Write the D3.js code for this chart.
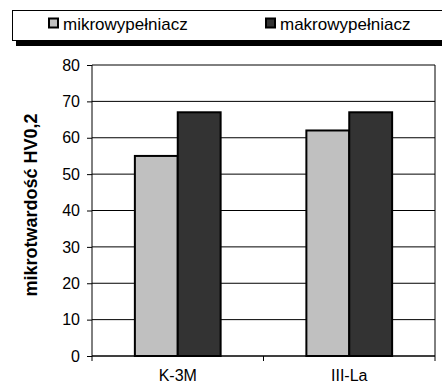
<!DOCTYPE html>
<html><head><meta charset="utf-8">
<script src="https://cdn.jsdelivr.net/npm/d3@7"></script>
<style>
html,body{margin:0;padding:0;background:#fff;}
svg{display:block;font-family:Arial,"Liberation Sans",sans-serif;}
</style></head>
<body>
<svg id="c" width="442" height="385"></svg>
<script>
const categories = ["K-3M", "III-La"];
const seriesNames = ["mikrowypełniacz", "makrowypełniacz"];
const mikro = [55, 62];
const makro = [67, 67];
const yTicks = [0, 10, 20, 30, 40, 50, 60, 70, 80];
const yTitle = "mikrotwardość HV0,2";
const colors = ["#c0c0c0", "#333333"];

const svg = d3.select("#c");
const L = 92, R = 435, T = 65, B = 356;
const x = d3.scaleBand().domain(categories).range([L, R]).padding(0);
const y = d3.scaleLinear().domain([0, 80]).range([B, T]);

// gridlines
svg.append("g").selectAll("line").data(yTicks).join("line")
  .attr("x1", L).attr("x2", R).attr("y1", d => y(d)).attr("y2", d => y(d))
  .attr("stroke", "#000").attr("stroke-width", 1);
// right border
svg.append("line").attr("x1", R).attr("x2", R).attr("y1", T).attr("y2", B)
  .attr("stroke", "#000").attr("stroke-width", 1);

// bars
const series = [mikro, makro];
const bw = x.bandwidth() / 4;
series.forEach((vals, si) => {
  svg.append("g").selectAll("rect").data(categories).join("rect")
    .attr("x", (d) => x(d) + x.bandwidth() / 2 - bw + si * bw)
    .attr("y", (d, i) => y(vals[i]))
    .attr("width", bw)
    .attr("height", (d, i) => y(0) - y(vals[i]))
    .attr("fill", colors[si])
    .attr("stroke", "#000").attr("stroke-width", 2);
});

// y axis
const yAxis = d3.axisLeft(y).tickValues(yTicks).tickSize(5).tickPadding(7).tickFormat(d3.format("d"));
const gy = svg.append("g").attr("transform", `translate(${L},0)`).call(yAxis);
gy.select(".domain").attr("stroke", "#000").attr("d", `M0,${T}V${B}`);
gy.selectAll(".tick line").attr("stroke", "#000");
gy.selectAll(".tick text").attr("font-size", 16).attr("fill", "#000")
  .attr("font-family", "Arial, 'Liberation Sans', sans-serif");

// x axis
const gx = svg.append("g").attr("transform", `translate(0,${B})`);
gx.append("line").attr("x1", L).attr("x2", R).attr("y1", 0).attr("y2", 0).attr("stroke", "#000");
const xt = [L, L + x.bandwidth(), R];
gx.selectAll("line.t").data(xt).join("line").attr("class", "t")
  .attr("x1", d => d).attr("x2", d => d).attr("y1", 0).attr("y2", 5).attr("stroke", "#000");
gx.selectAll("text").data(categories).join("text")
  .attr("x", d => x(d) + x.bandwidth() / 2).attr("y", 25)
  .attr("text-anchor", "middle").attr("font-size", 16).text(d => d);

// y title
svg.append("text").attr("transform", `translate(37,205) rotate(-90)`)
  .attr("text-anchor", "middle").attr("font-size", 18).attr("font-weight", "bold")
  .text(yTitle);

// legend
const lg = svg.append("g");
lg.append("rect").attr("x", 16).attr("y", 16).attr("width", 440).attr("height", 30).attr("fill", "#000");
lg.append("rect").attr("x", 12.5).attr("y", 10.5).attr("width", 440).attr("height", 30)
  .attr("fill", "#fff").attr("stroke", "#000").attr("stroke-width", 1);
const lx = [49, 266];
seriesNames.forEach((n, i) => {
  lg.append("rect").attr("x", lx[i]).attr("y", 18.5).attr("width", 9).attr("height", 9)
    .attr("fill", colors[i]).attr("stroke", "#000").attr("stroke-width", 2);
  lg.append("text").attr("x", lx[i] + 14).attr("y", 30).attr("font-size", 17).text(n);
});
</script>
</body></html>
